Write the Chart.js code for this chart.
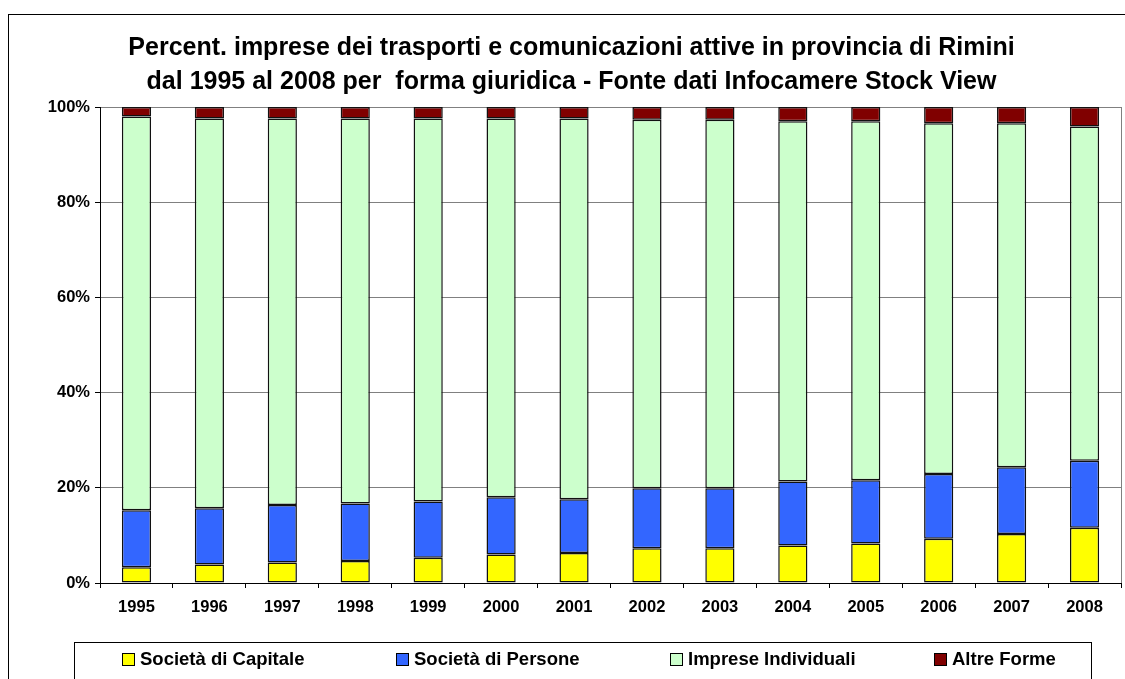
<!DOCTYPE html>
<html>
<head>
<meta charset="utf-8">
<script src="https://cdn.jsdelivr.net/npm/chart.js@4"></script>
<style>
  body { margin: 0; background: #fff; }
</style>
</head>
<body>
<canvas id="chart" width="1125" height="679"></canvas>
<script>
// anni e percentuali
const years = ['1995','1996','1997','1998','1999','2000','2001','2002','2003','2004','2005','2006','2007','2008'];
const capitale    = [3.3, 3.9, 4.3, 4.6, 5.3, 6.0, 6.3, 7.3, 7.3, 7.9, 8.3, 9.3, 10.3, 11.6];
const persone     = [12.0, 11.8, 12.1, 12.1, 11.8, 12.0, 11.3, 12.6, 12.6, 13.4, 13.3, 13.6, 14.0, 14.1];
const individuali = [82.7, 81.9, 81.2, 80.9, 80.5, 79.6, 80.0, 77.4, 77.4, 75.7, 75.4, 73.7, 72.3, 70.2];
const altre       = [2.0, 2.4, 2.4, 2.4, 2.4, 2.4, 2.4, 2.7, 2.7, 3.0, 3.0, 3.4, 3.4, 4.1];
const yTicks = [0, 20, 40, 60, 80, 100];

const font = 'Arial, "Liberation Sans", sans-serif';

// bordo esterno, bordo destro del grafico e legenda in stile excel
const excelFrame = {
  id: 'excelFrame',
  afterDraw(chart) {
    const ctx = chart.ctx;
    const area = chart.chartArea;
    ctx.save();
    ctx.strokeStyle = '#808080';
    ctx.lineWidth = 1;
    ctx.beginPath();
    ctx.moveTo(Math.round(area.right) + 0.5, area.top);
    ctx.lineTo(Math.round(area.right) + 0.5, area.bottom);
    ctx.stroke();

    ctx.strokeStyle = '#000';
    ctx.strokeRect(8.5, 14.5, 1200, 700);

    // legenda
    ctx.strokeStyle = '#000';
    ctx.strokeRect(74.5, 642.5, 1017, 100);
    const slots = [122, 396, 670, 934];
    ctx.font = 'bold 18.5px ' + font;
    ctx.textBaseline = 'middle';
    chart.data.datasets.forEach((ds, i) => {
      const x = slots[i];
      ctx.fillStyle = ds.backgroundColor;
      ctx.fillRect(x + 0.5, 653.5, 12, 12);
      ctx.strokeStyle = '#000';
      ctx.strokeRect(x + 0.5, 653.5, 12, 12);
      ctx.fillStyle = '#000';
      ctx.fillText(ds.label, x + 18, 660);
    });
    ctx.restore();
  }
};

const chartdata = {
  labels: years,
  datasets: [
    { label: 'Società di Capitale', data: capitale, backgroundColor: '#FFFF00' },
    { label: 'Società di Persone', data: persone, backgroundColor: '#3366FF' },
    { label: 'Imprese Individuali', data: individuali, backgroundColor: '#CCFFCC' },
    { label: 'Altre Forme', data: altre, backgroundColor: '#800000' }
  ].map(ds => Object.assign(ds, {
    borderColor: '#111',
    borderWidth: 1.5,
    borderSkipped: false,
    barPercentage: 0.4,
    categoryPercentage: 1
  }))
};

const config = {
  type: 'bar',
  data: chartdata,
  plugins: [excelFrame],
  options: {
    responsive: false,
    animation: false,
    layout: { padding: { left: 22, right: 4, top: 0, bottom: 37 } },
    plugins: {
      legend: { display: false },
      tooltip: { enabled: false },
      title: {
        display: true,
        text: ['Percent. imprese dei trasporti e comunicazioni attive in provincia di Rimini',
               'dal 1995 al 2008 per  forma giuridica - Fonte dati Infocamere Stock View'],
        color: '#000',
        font: { family: font, size: 25, weight: 'bold', lineHeight: 34 / 25 },
        padding: { top: 31, bottom: 8 }
      }
    },
    scales: {
      x: {
        stacked: true,
        afterFit(scale) { scale.height = 59; },
        border: { color: '#000', width: 1 },
        grid: { display: true, drawOnChartArea: false, tickLength: 5, tickColor: '#000', offset: true },
        ticks: { color: '#000', padding: 10, maxRotation: 0, font: { family: font, size: 16.5, weight: 'bold' } }
      },
      y: {
        stacked: true,
        min: 0,
        max: 100,
        afterFit(scale) { scale.width = 78; },
        afterBuildTicks(scale) { scale.ticks = yTicks.map(v => ({ value: v })); },
        border: { color: '#000', width: 1 },
        grid: { color: '#808080', tickColor: '#000', tickLength: 5 },
        ticks: {
          color: '#000',
          padding: 5,
          font: { family: font, size: 16.5, weight: 'bold' },
          callback: v => v + '%'
        }
      }
    }
  }
};

new Chart(document.getElementById('chart'), config);
</script>
</body>
</html>
